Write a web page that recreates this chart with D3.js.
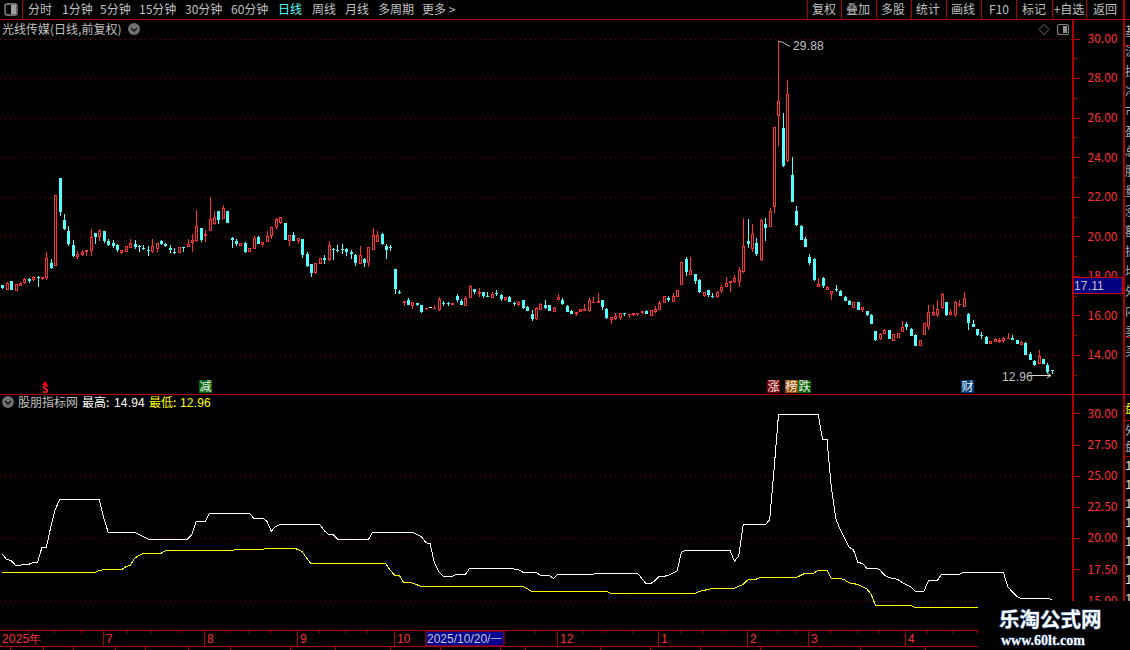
<!DOCTYPE html>
<html><head><meta charset="utf-8">
<script src="https://cdnjs.cloudflare.com/ajax/libs/d3/7.8.5/d3.min.js"></script>
<style>html,body{margin:0;padding:0;background:#000;overflow:hidden}svg{display:block}
text{font-family:"Noto Sans CJK SC","Noto Sans",sans-serif}
.n{font-family:"Liberation Sans",sans-serif;letter-spacing:.15px}</style></head><body><svg id="c" width="1130" height="650"></svg>
<script>
const opens=[17.55,17.31,17.72,17.26,17.51,17.62,17.82,17.77,17.92,17.82,
17.87,18.63,18.49,22.96,20.84,20.25,19.57,18.93,19.08,19.2,
19.25,20.18,19.94,20.25,19.74,19.64,19.54,19.15,19.2,19.4,
19.59,19.5,19.42,19.29,19.2,19.35,19.74,19.59,19.42,19.23,
19.17,19.45,19.45,19.66,19.74,20.43,20.04,20.26,20.63,21.29,
20.85,21.26,19.89,19.74,19.49,19.64,19.2,19.35,19.94,19.55,
19.71,20.0,20.45,20.66,20.68,19.78,20.07,19.78,19.86,19.1,
18.6,18.14,18.61,18.9,18.8,19.37,19.31,19.37,19.36,19.19,
19.05,18.6,18.85,18.66,19.31,19.71,20.13,19.51,19.48,18.34,
17.2,16.65,16.79,16.47,16.65,16.52,16.35,16.42,16.33,16.27,
16.65,16.62,16.54,16.98,16.72,16.48,16.89,17.36,17.08,17.16,
17.0,16.89,17.11,17.03,16.77,16.91,16.64,16.55,16.77,16.45,
16.06,15.81,16.3,16.52,16.52,16.18,16.77,16.79,16.47,16.21,
16.06,16.18,16.23,16.21,16.64,16.64,16.77,16.32,15.77,15.83,
15.88,16.1,16.03,16.01,16.07,16.1,16.21,15.99,16.16,16.27,
16.64,16.86,16.7,16.94,17.55,18.83,18.04,18.12,17.79,16.97,
17.28,17.0,16.92,17.23,17.45,17.62,17.68,17.68,18.2,19.77,
19.38,19.67,18.81,20.63,20.45,21.46,26.06,25.47,23.82,23.09,
21.29,20.53,19.87,18.96,18.86,17.46,17.9,17.31,17.06,17.36,
17.24,16.94,16.71,16.4,16.69,16.25,16.24,16.03,15.19,14.82,
15.04,15.24,14.69,14.84,15.14,15.58,15.31,15.03,14.47,14.99,
15.41,16.0,16.0,16.4,16.69,16.0,16.0,16.52,16.45,16.08,
15.58,15.33,15.0,14.89,14.54,14.66,14.66,14.71,14.81,14.86,
14.74,14.5,14.61,14.07,13.68,13.53,13.8,13.51,13.24];
const highs=[17.55,17.67,17.72,17.57,17.67,17.89,17.89,18.0,17.99,17.92,
19.23,18.83,22.1,22.96,21.14,20.5,19.79,19.27,19.32,19.32,
20.38,20.18,20.38,20.25,19.84,19.82,19.62,19.32,19.52,19.88,
19.79,19.54,19.54,19.49,19.84,19.68,19.82,19.64,19.54,19.42,
19.45,19.45,19.84,20.13,21.31,20.43,20.3,21.98,21.26,21.29,
21.56,21.26,19.94,19.84,19.64,19.69,19.42,20.04,20.0,19.72,
20.25,20.48,20.92,21.0,20.68,20.07,20.22,19.92,19.86,19.19,
18.6,18.63,18.88,19.04,19.75,19.4,19.54,19.61,19.41,19.31,
19.1,19.51,18.92,19.46,20.42,20.25,20.19,19.61,19.56,18.36,
17.28,16.72,16.87,16.7,16.65,16.52,16.4,16.45,16.52,16.91,
16.72,16.67,16.65,17.08,16.82,17.0,17.52,17.36,17.41,17.16,
17.21,17.16,17.28,17.09,16.91,16.96,16.67,16.72,16.77,16.5,
16.25,16.42,16.62,16.77,16.52,16.42,17.06,16.86,16.52,16.3,
16.18,16.32,16.57,16.86,16.91,17.11,16.77,16.37,15.94,16.1,
16.1,16.1,16.06,16.1,16.1,16.2,16.27,16.3,16.47,16.72,
16.96,16.98,17.11,17.31,18.7,18.95,18.95,18.12,17.84,17.16,
17.28,17.11,17.23,17.53,17.94,17.72,18.02,18.45,20.94,20.88,
20.63,19.92,20.88,20.94,21.44,25.52,29.88,26.25,27.92,24.02,
21.54,20.55,19.97,19.1,18.88,17.9,17.95,17.48,17.23,17.55,
17.29,16.99,16.8,16.67,16.69,16.44,16.24,16.08,15.23,15.11,
15.31,15.28,15.08,15.11,15.73,15.68,15.34,15.06,14.77,15.63,
16.55,16.55,16.79,17.11,16.69,16.32,16.72,16.79,17.19,16.1,
15.78,15.33,15.14,14.94,14.69,14.87,14.86,14.92,15.13,15.0,
14.76,14.69,14.66,14.14,13.77,14.27,13.8,13.6,13.25];
const lows=[17.33,17.3,17.28,17.26,17.48,17.58,17.62,17.73,17.46,17.77,
17.8,18.37,18.49,21.02,20.31,19.49,18.95,18.85,19.03,19.03,
19.03,19.6,19.74,19.66,19.5,19.42,19.23,19.13,19.2,19.4,
19.37,19.23,19.29,19.03,19.18,19.23,19.54,19.44,19.15,19.13,
19.17,19.23,19.45,19.23,19.69,19.69,19.69,20.25,20.55,20.6,
20.85,20.65,19.39,19.49,19.49,19.18,19.2,19.35,19.59,19.44,
19.71,19.86,20.35,20.6,19.81,19.51,19.78,19.61,18.9,18.45,
17.94,18.1,18.58,18.6,18.75,18.8,19.19,19.1,19.02,18.85,
18.5,18.6,18.45,18.45,19.3,19.71,19.58,18.85,19.26,17.08,
17.08,16.47,16.52,16.32,16.47,16.11,16.27,16.38,16.33,16.21,
16.5,16.5,16.54,16.7,16.52,16.48,16.89,17.08,16.92,16.89,
16.97,16.89,16.97,16.74,16.72,16.69,16.47,16.48,16.32,16.23,
15.72,15.76,16.27,16.35,16.21,16.18,16.77,16.54,16.16,16.06,
15.96,16.18,16.23,16.16,16.64,16.64,16.27,15.83,15.55,15.79,
15.76,15.96,15.86,15.96,15.98,16.06,16.06,15.96,16.13,16.27,
16.64,16.67,16.67,16.94,17.55,18.0,18.04,17.58,17.13,16.92,
16.92,16.87,16.89,17.13,17.45,17.16,17.63,17.43,18.14,19.42,
19.22,19.01,18.76,19.77,20.45,21.19,24.58,23.5,23.78,21.74,
20.53,19.82,19.47,18.56,17.76,17.46,17.41,17.31,16.79,17.19,
16.99,16.74,16.54,16.4,16.29,16.15,15.95,15.55,14.69,14.77,
15.04,14.82,14.69,14.84,15.14,15.24,14.94,14.47,14.47,14.99,
15.24,15.95,15.9,16.35,15.98,16.0,15.9,16.45,16.45,15.24,
15.4,14.94,14.81,14.54,14.54,14.66,14.59,14.62,14.81,14.76,
14.54,14.5,14.02,13.73,13.46,13.53,13.53,13.09,13.04];
const closes=[17.4,17.65,17.31,17.57,17.63,17.82,17.72,17.92,17.89,17.92,
18.91,18.41,22.1,21.22,20.38,19.59,18.98,19.12,19.23,19.32,
19.98,19.96,20.28,19.74,19.57,19.5,19.29,19.29,19.49,19.64,
19.45,19.47,19.39,19.27,19.52,19.66,19.59,19.49,19.29,19.2,
19.45,19.4,19.62,19.82,20.53,19.79,20.13,20.89,21.0,20.8,
21.44,20.65,19.82,19.59,19.64,19.22,19.42,19.89,19.62,19.72,
20.03,20.48,20.85,20.96,19.81,20.07,19.78,19.92,19.05,18.48,
18.14,18.63,18.88,18.8,19.54,19.36,19.27,19.34,19.19,19.09,
18.63,19.05,18.66,19.46,20.05,20.05,19.6,19.31,19.44,17.35,
17.16,16.72,16.52,16.7,16.52,16.16,16.4,16.42,16.4,16.82,
16.6,16.59,16.65,16.77,16.52,16.87,17.48,17.16,17.16,16.99,
16.97,17.06,17.06,16.81,16.91,16.69,16.62,16.67,16.4,16.23,
15.83,16.37,16.57,16.4,16.21,16.42,16.91,16.57,16.16,16.06,
16.18,16.32,16.32,16.77,16.69,16.72,16.43,15.86,15.94,15.96,
16.1,16.06,16.06,16.1,16.1,16.2,16.06,16.3,16.35,16.65,
16.96,16.77,16.96,17.31,18.68,18.21,18.28,17.74,17.16,17.16,
17.04,16.97,17.18,17.46,17.62,17.72,17.87,18.28,19.5,19.62,
20.11,19.1,20.83,20.43,21.27,25.52,26.84,23.57,27.19,21.74,
20.56,19.82,19.47,18.64,17.78,17.6,17.48,17.43,17.23,17.31,
16.99,16.74,16.54,16.67,16.29,16.42,16.0,15.55,14.77,15.04,
15.28,14.82,15.08,15.11,15.43,15.41,14.98,14.47,14.77,15.61,
16.18,16.18,16.32,17.09,16.03,16.18,16.69,16.59,16.87,15.61,
15.4,15.03,14.97,14.57,14.69,14.81,14.74,14.86,14.86,14.76,
14.54,14.64,14.02,13.77,13.5,13.93,13.53,13.13,13.19];
const upperBand=[18.71,18.28,18.2,17.82,17.82,17.9,17.9,18.06,18.06,19.27,
19.27,20.9,22.3,23.06,23.06,23.06,23.06,23.06,23.06,23.06,
23.06,23.06,23.06,21.6,20.48,20.48,20.48,20.48,20.48,20.48,
20.48,20.3,20.1,19.92,19.92,19.92,19.92,19.92,19.92,19.92,
19.92,19.92,19.92,20.3,21.34,21.34,21.34,22,22,22,
22,22,22,22,22,22,22,21.6,21.6,21.6,
21.34,20.56,20.94,21.08,21.08,21.08,21.08,21.08,21.08,21.08,
21.08,21.08,21.08,20.6,20.27,20.27,19.92,19.87,19.87,19.87,
19.87,19.87,19.87,19.87,20.48,20.48,20.48,20.48,20.48,20.48,
20.48,20.48,20.48,20.48,20.3,20.13,19.65,19.54,18,17.31,
16.94,16.94,16.94,17.1,17.1,17.1,17.58,17.58,17.58,17.58,
17.58,17.58,17.58,17.58,17.58,17.58,17.52,17.47,17.28,17.28,
17.28,17.28,17.02,17.02,17.02,16.77,17.1,17.1,17.1,17.1,
17.1,17.1,17.1,17.1,17.1,17.2,17.2,17.2,17.2,17.2,
17.2,17.2,17.2,17.2,17.2,16.77,16.34,16.34,16.59,16.94,
16.94,17,17.2,17.37,18.87,19.03,19.03,19.03,19.03,19.03,
19.03,19.03,19.03,19.03,19.03,19.03,18.15,18.58,21.05,21.05,
21.05,21.05,21.05,21.05,21.48,25.52,29.88,29.88,29.88,29.88,
29.88,29.88,29.88,29.88,29.88,29.88,27.92,27.92,24.02,21.54,
20.67,20,19.27,19.06,18.04,17.98,17.6,17.6,17.6,17.45,
17.04,16.85,16.77,16.69,16.45,16.25,16.1,15.75,15.75,15.75,
16.59,16.59,16.59,17.1,17.1,17.1,17.1,17.1,17.26,17.26,
17.26,17.26,17.26,17.26,17.26,17.26,17.26,17.26,16.1,15.7,
15.35,15.16,15.16,15.16,15.16,15.16,15.16,15.16,15.08];
const lowerBand=[17.26,17.26,17.26,17.26,17.26,17.26,17.26,17.26,17.26,17.26,
17.26,17.26,17.26,17.26,17.26,17.26,17.26,17.26,17.26,17.26,
17.26,17.26,17.4,17.47,17.47,17.47,17.47,17.47,17.7,17.82,
18.39,18.6,18.79,18.79,18.79,18.79,18.79,19,19,19,
19,19,19,19,19,19,19,19,19,19,
19,19,19,19.09,19.09,19.09,19.09,19.09,19.09,19.09,
19.19,19.19,19.19,19.19,19.19,19.19,19.19,19.1,18.92,18.4,
17.93,17.93,17.93,17.93,17.93,17.93,17.93,17.93,17.93,17.93,
17.93,17.93,17.93,17.93,17.93,17.93,17.93,17.93,17.4,17.02,
17.02,16.45,16.45,16.4,16.26,16.13,16.13,16.13,16.13,16.13,
16.13,16.13,16.13,16.13,16.13,16.13,16.13,16.13,16.13,16.13,
16.13,16.13,16.13,16.13,16.13,16.13,16.13,16.13,16.13,15.95,
15.73,15.73,15.73,15.73,15.73,15.73,15.73,15.73,15.73,15.73,
15.73,15.73,15.73,15.73,15.73,15.73,15.73,15.73,15.56,15.56,
15.56,15.56,15.56,15.56,15.56,15.56,15.56,15.56,15.56,15.56,
15.56,15.56,15.56,15.56,15.56,15.56,15.56,15.56,15.73,15.8,
15.89,15.97,15.97,15.97,15.97,15.97,15.97,16.15,16.29,16.64,
16.72,16.72,16.85,16.85,16.85,16.85,16.85,16.85,16.85,16.85,
16.85,17,17.18,17.18,17.18,17.42,17.42,17.42,16.77,16.77,
16.77,16.65,16.42,16.35,16.29,16.1,15.94,15.51,14.62,14.62,
14.62,14.62,14.62,14.62,14.62,14.62,14.62,14.43,14.43,14.43,
14.43,14.43,14.43,14.43,14.43,14.43,14.43,14.43,14.43,14.43,
14.43,14.43,14.43,14.43,14.43,14.43,14.43,14.43,14.43,14.43,
14.43,14.43,14.43,14.43,14.43,14.43,14.43,14.43,14.43];
const priceTicks=[14,16,18,20,22,24,26,28,30];
const priceMinor=[13,15,17,19,21,23,25,27,29];
const indTicks=[15,17.5,20,22.5,25,27.5,30];
const indGrid=[15,20,25];
const monthLabels=["7","8","9","10","12","1","2","3","4"];
const monthIdx=[23,46,67,89,126,149,169,183,205];
const weekIdx=[6,12,18,28.5,34,40,51,56,61,72,78,83,100,110,121,132,137,143,154,159,164,176,180,188,194,199,210,215.5,221];
const peakLow=[29.88,12.96];

const RED="#FF3232",CYAN="#54FFFF",LINE="#B00000",GRAY="#C0C0C0",AX="#FF3030";
const svg=d3.select("#c");
svg.append("rect").attr("width",1130).attr("height",650).attr("fill","#000");
const n=opens.length;
const x=d3.scaleLinear().domain([0,238]).range([2.3,1051.9]);
const yP=d3.scaleLinear().domain([30,14]).range([38.5,355]);
const yI=d3.scaleLinear().domain([30,15]).range([413.3,600.5]);
const px=i=>Math.round(x(i));
const ln=(x1,y1,x2,y2,c=LINE,w=1)=>svg.append("line").attr("x1",x1).attr("y1",y1).attr("x2",x2).attr("y2",y2).attr("stroke",c).attr("stroke-width",w).attr("shape-rendering","crispEdges");
const tx=(s,xx,yy,c=GRAY,sz=12,a="start",cl="")=>svg.append("text").attr("x",xx).attr("y",yy).attr("fill",c).attr("font-size",sz).attr("text-anchor",a).attr("class",cl).text(s);

// grids
svg.append("g").attr("shape-rendering","crispEdges").selectAll("line").data(priceTicks).join("line").attr("x1",0).attr("x2",1072)
 .attr("y1",d=>Math.round(yP(d))+.5).attr("y2",d=>Math.round(yP(d))+.5).attr("stroke","#8C0000").attr("stroke-dasharray","1 4");
svg.append("g").attr("shape-rendering","crispEdges").selectAll("line").data(indGrid).join("line").attr("x1",0).attr("x2",1072)
 .attr("y1",d=>Math.round(yI(d))+.5).attr("y2",d=>Math.round(yI(d))+.5).attr("stroke","#8C0000").attr("stroke-dasharray","1 4");

// candles
const g=svg.append("g").attr("shape-rendering","crispEdges");
const idx=d3.range(n);
const R=v=>Math.round(yP(v));
idx.forEach(i=>{
 const o=opens[i],c=closes[i],h=highs[i],l=lows[i],cx=px(i);
 const col=o===c?"#FFFFFF":(c>o?RED:CYAN);
 const t=R(Math.max(o,c)),b=Math.max(R(Math.min(o,c)),t+1);
 if(R(h)<t) g.append("rect").attr("x",cx).attr("y",R(h)).attr("width",1).attr("height",t-R(h)).attr("fill",col);
 if(R(l)>b) g.append("rect").attr("x",cx).attr("y",b).attr("width",1).attr("height",R(l)-b).attr("fill",col);
 if(c>o&&b-t>2){
  g.append("rect").attr("x",cx-.5).attr("y",t+.5).attr("width",2).attr("height",b-t-1).attr("fill","#000").attr("stroke",col);
 }else g.append("rect").attr("x",cx-1).attr("y",t).attr("width",3).attr("height",b-t).attr("fill",col);
});

// indicator lines
const line=d3.line().x((d,i)=>x(i)).y(d=>yI(d));
svg.append("path").attr("d",line(upperBand)).attr("fill","none").attr("stroke","#FFFFFF").attr("stroke-width",1).attr("shape-rendering","crispEdges");
svg.append("path").attr("d",line(lowerBand)).attr("fill","none").attr("stroke","#FFFF00").attr("stroke-width",1).attr("shape-rendering","crispEdges");

// frame
ln(0,19.5,1130,19.5);ln(22.5,0,22.5,19);
[807,841,876,911,946,981,1016,1052,1086,1123].forEach(v=>ln(v+.5,0,v+.5,19));
ln(0,394.5,1123,394.5);
ln(1072.5,20,1072.5,630,LINE,2);
ln(1123.5,0,1123.5,650,LINE,2);
ln(1124,45.5,1130,45.5);ln(1124,337.5,1130,337.5);ln(1124,394.5,1130,394.5);ln(1124,420.5,1130,420.5);ln(1124,456.5,1130,456.5);
ln(0,630.5,1072,630.5,LINE,1.5);ln(0,646.5,1072,646.5,LINE,1.5);

// price axis
const axP=d3.axisRight(yP).tickValues(priceTicks).tickFormat(d3.format(".2f")).tickSize(7).tickPadding(8);
const aP=svg.append("g").attr("transform","translate(1072.5,0)").call(axP);
const axPm=d3.axisRight(yP).tickValues(priceMinor).tickSize(4).tickFormat("");
const aPm=svg.append("g").attr("transform","translate(1072.5,0)").call(axPm);
const axI=d3.axisRight(yI).tickValues(indTicks).tickFormat(d3.format(".2f")).tickSize(7).tickPadding(8);
const aI=svg.append("g").attr("transform","translate(1072.5,0)").call(axI);
[aP,aPm,aI].forEach(a=>{a.select(".domain").remove();a.selectAll("line").attr("stroke",LINE).attr("shape-rendering","crispEdges");
 a.selectAll("text").attr("fill",AX).attr("font-size",12).attr("font-family","Liberation Sans");a.attr("font-family","Liberation Sans");});

// last price box
svg.append("rect").attr("x",1073.5).attr("y",277.5).attr("width",49).attr("height",16).attr("fill","#000080").attr("stroke","#D00000");
tx("17.11",1074,290,"#C8C8C8",12,"start","n");

// toolbar
svg.append("rect").attr("x",5).attr("y",4).attr("width",12).attr("height",11).attr("rx",2).attr("fill","none").attr("stroke","#909090").attr("stroke-width",1.3);
svg.append("rect").attr("x",11).attr("y",5).attr("width",5).attr("height",9).attr("fill","#A0A0A0");
[["分时",28],["1分钟",62],["5分钟",100],["15分钟",139],["30分钟",185],["60分钟",231],["周线",312],["月线",345],["多周期",378],["更多 >",422]].forEach(d=>tx(d[0],d[1],14));
tx("日线",278,14,"#54FFFF");
[["复权",824],["叠加",858],["多股",893],["统计",928],["画线",963],["F10",999],["标记",1034],["+自选",1069],["返回",1105]].forEach(d=>tx(d[0],d[1],14,GRAY,12,"middle"));

// titles
function chev(cx,cy){svg.append("circle").attr("cx",cx).attr("cy",cy).attr("r",6).attr("fill","#707070");
 svg.append("path").attr("d",`M${cx-3},${cy-1}L${cx},${cy+2}L${cx+3},${cy-1}`).attr("fill","none").attr("stroke","#111").attr("stroke-width",1.4);}
tx("光线传媒(日线,前复权)",2,34);chev(134,29);
svg.append("path").attr("d","M1044,24.5L1049,29.5L1044,34.5L1039,29.5Z").attr("fill","none").attr("stroke","#707070");
svg.append("rect").attr("x",1057.5).attr("y",24.5).attr("width",11).attr("height",10).attr("rx",2).attr("fill","none").attr("stroke","#808080").attr("stroke-width",1.2);
svg.append("rect").attr("x",1063).attr("y",26).attr("width",4).attr("height",7).attr("fill","#909090");
chev(8,402);
tx("股朋指标网",18,407,GRAY);
tx("最高:",82,407,"#FFFFFF");tx("14.94",114,407,"#FFFFFF",12,"start","n");
tx("最低:",149,407,"#FFFF00");tx("12.96",180,407,"#FFFF00",12,"start","n");

// annotations
const pi=highs.indexOf(peakLow[0]);
svg.append("path").attr("d",`M${px(pi)},${yP(peakLow[0])+.5}l5,1l3,2l4,2`).attr("fill","none").attr("stroke",GRAY);
tx(d3.format(".2f")(peakLow[0]),793,50,GRAY,12,"start","n");
tx(d3.format(".2f")(peakLow[1]),1002,381,GRAY,12,"start","n");
svg.append("path").attr("d","M1030,375.5H1051M1047,373l4,2.5l-4,2.5").attr("fill","none").attr("stroke","#D8D8D8");

// signals
svg.append("path").attr("d","M45,381l3,4h-6z").attr("fill","#FF0000");
svg.append("text").attr("x",45).attr("y",392.5).attr("fill","#FF2020").attr("font-size",10).attr("font-weight","bold").attr("text-anchor","middle").text("S");
function badge(t,x0,w,f){svg.append("rect").attr("x",x0).attr("y",380).attr("width",w).attr("height",13).attr("fill",f);tx(t,x0+w/2,391,"#F0F0F0",12,"middle");}
badge("减",199,13,"#006400");badge("涨",767,13,"#800000");badge("榜",785,13,"#A05000");badge("跌",798,13,"#006400");badge("财",961,13,"#004080");

// time axis
monthIdx.forEach((m,i)=>{const xx=Math.round(x(m))-1;ln(xx+.5,631,xx+.5,646);tx(monthLabels[i],xx+3,643,AX,12,"start","n");});
weekIdx.forEach(w=>{const xx=Math.round(x(w))-1;ln(xx+.5,631,xx+.5,633);});
tx("2025年",2,643,AX,12,"start","n");
svg.append("rect").attr("x",426).attr("y",631).attr("width",78).attr("height",15).attr("fill","#000090").attr("stroke","#C00000");
tx("2025/10/20/一",427,643,"#C8C8C8",12,"start","n").attr("style","letter-spacing:0");
[10,43,73,115,145,188,230,290,335,390,440,500,525,600,650,700,760,860,925].forEach(v=>ln(v+.5,647,v+.5,650));

// right sidebar, clipped by the window edge
const sideTop=["基","流","换","净","市","盈","总","股","量","涨","额","振","均","外","内","卖","买"];
sideTop.forEach((s,i)=>tx(s,1125,36+i*20,"#B0B0B0",12));
d3.range(8).forEach(i=>tx("1",1125,470+i*19,"#E0E0E0",13,"start","n"));
svg.append("rect").attr("x",1125).attr("y",400).attr("width",5).attr("height",18).attr("fill","#000");
tx("盘",1125,413,"#FFFF00",12);tx("外",1125,435,"#B0B0B0",12);tx("盘",1125,451,"#B0B0B0",12);

// watermark
svg.append("rect").attr("x",978).attr("y",601).attr("width",152).attr("height",49).attr("fill","#000");
svg.append("text").attr("x",999).attr("y",627).attr("fill","#FFF").attr("font-size",20.5).attr("font-weight","bold").attr("style","paint-order:stroke;stroke:#3060A0;stroke-width:1px").text("乐淘公式网");
svg.append("text").attr("x",1001).attr("y",645).attr("fill","#FFF").attr("font-size",14).attr("font-weight","bold").attr("style","font-family:'Liberation Serif';paint-order:stroke;stroke:#3060A0;stroke-width:.8px").text("www.60lt.com");
</script></body></html>
